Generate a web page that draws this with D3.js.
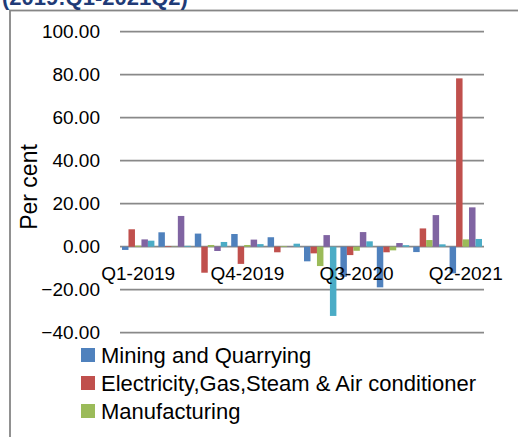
<!DOCTYPE html>
<html>
<head>
<meta charset="utf-8">
<script src="https://cdn.jsdelivr.net/npm/d3@7"></script>
<style>
  body { margin: 0; background: #fff; }
  text { font-family: "Liberation Sans", Arial, sans-serif; fill: #000; }
</style>
</head>
<body>
<svg width="518" height="437"></svg>
<script>
var quarters = ["Q1-2019", "Q2-2019", "Q3-2019", "Q4-2019", "Q1-2020", "Q2-2020", "Q3-2020", "Q4-2020", "Q1-2021", "Q2-2021"];
var seriesNames = ["Mining and Quarrying", "Electricity,Gas,Steam & Air conditioner", "Manufacturing", "Water Supply & Sewerage", "Construction"];
var colors = ["#4f81bd", "#c0504d", "#9bbb59", "#8064a2", "#4bacc6"];

var mining = [-1.5, 6.7, 6.1, 5.9, 4.4, -6.8, -14.0, -18.9, -2.5, -12.4];
var electricity = [8.1, 0.3, -12.1, -8.0, -2.6, -3.1, -3.9, -2.6, 8.5, 78.3];
var manufacturing = [0.5, 0.1, 0.8, 0.8, 0.3, -9.0, -1.9, -1.7, 3.1, 3.4];
var water = [3.4, 14.3, -2.0, 3.3, 0.1, 5.4, 6.8, 1.7, 14.7, 18.3];
var construction = [2.8, 0.4, 2.2, 1.2, 1.4, -32.2, 2.5, 0.7, 1.1, 3.6];

var yTicks = [-40, -20, 0, 20, 40, 60, 80, 100];
var shownLabels = ["Q1-2019", "Q4-2019", "Q3-2020", "Q2-2021"];

var seriesValues = [mining, electricity, manufacturing, water, construction];

var svg = d3.select("svg"),
    width = +svg.attr("width"),
    height = +svg.attr("height");

// legend box is cropped in the source, only the first rows show
svg.append("defs").append("clipPath")
    .attr("id", "legendClip")
  .append("rect")
    .attr("x", 0)
    .attr("y", 336)
    .attr("width", width)
    .attr("height", 90);

// chart frame (only left/top edges fall inside the crop)
svg.append("rect")
    .attr("x", 10)
    .attr("y", 10.5)
    .attr("width", 700)
    .attr("height", 700)
    .style("fill", "none")
    .style("stroke", "#868686")
    .style("stroke-width", 1.8);

// title, mostly cut off at the top
svg.append("text")
    .attr("x", 2)
    .attr("y", 5)
    .style("font-size", "22px")
    .style("font-weight", "bold")
    .style("fill", "#1f3b77")
    .text("(2019:Q1-2021Q2)");

var x = d3.scaleBand()
    .domain(quarters)
    .range([120, 484]);

var xs = d3.scaleBand()
    .domain(d3.range(seriesNames.length))
    .range([2, x.bandwidth() - 2]);

var y = d3.scaleLinear()
    .domain([-40, 100])
    .range([332.7, 31.7]);

var fmt = d3.format(".2f");

svg.append("g")
    .attr("class", "grid")
    .selectAll("line")
    .data(yTicks)
    .enter().append("line")
    .attr("x1", 120)
    .attr("x2", 484)
    .attr("y1", function(d) { return y(d); })
    .attr("y2", function(d) { return y(d); })
    .style("stroke", "#898989")
    .style("stroke-width", 1.8);

svg.append("g")
    .selectAll("text")
    .data(yTicks)
    .enter().append("text")
    .attr("x", 100)
    .attr("y", function(d) { return y(d); })
    .attr("dy", "0.35em")
    .attr("text-anchor", "end")
    .style("font-size", "19px")
    .text(function(d) { return fmt(d); });

svg.append("text")
    .attr("transform", "translate(37,187) rotate(-90)")
    .attr("text-anchor", "middle")
    .style("font-size", "23px")
    .text("Per cent");

var groups = svg.append("g")
    .selectAll("g")
    .data(quarters)
    .enter().append("g")
    .attr("transform", function(d) { return "translate(" + x(d) + ",0)"; });

groups.selectAll("rect")
    .data(function(d, i) {
      return seriesValues.map(function(s, k) { return { k: k, v: s[i] }; });
    })
    .enter().append("rect")
    .attr("x", function(d) { return xs(d.k); })
    .attr("width", xs.bandwidth())
    .attr("y", function(d) { return y(Math.max(0, d.v)); })
    .attr("height", function(d) { return Math.abs(y(d.v) - y(0)); })
    .style("fill", function(d) { return colors[d.k]; });

svg.append("g")
    .selectAll("text")
    .data(shownLabels)
    .enter().append("text")
    .attr("x", function(d) { return x(d) + x.bandwidth() / 2; })
    .attr("y", 280)
    .attr("text-anchor", "middle")
    .style("font-size", "19px")
    .text(function(d) { return d; });

var legend = svg.append("g")
    .attr("clip-path", "url(#legendClip)")
    .selectAll("g")
    .data(seriesNames)
    .enter().append("g")
    .attr("transform", function(d, i) { return "translate(81," + (355 + i * 28) + ")"; });

legend.append("rect")
    .attr("x", 0)
    .attr("y", -7)
    .attr("width", 14)
    .attr("height", 14)
    .style("fill", function(d, i) { return colors[i]; });

legend.append("text")
    .attr("x", 20)
    .attr("dy", "0.36em")
    .style("font-size", "22px")
    .text(function(d) { return d; });
</script>
</body>
</html>
